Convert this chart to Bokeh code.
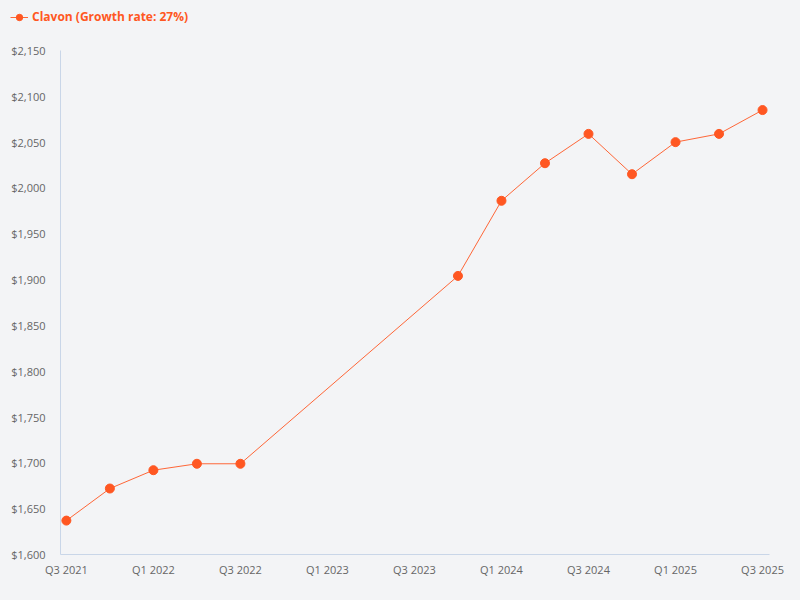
from bokeh.plotting import figure
from bokeh.layouts import column, row
from bokeh.models import FixedTicker, NumeralTickFormatter, Range1d, Legend, LegendItem
from bokeh.embed import file_html
from bokeh.resources import INLINE

series_name = "Clavon (Growth rate: 27%)"
quarters = ["Q3 2021", "Q4 2021", "Q1 2022", "Q2 2022", "Q3 2022",
            "Q4 2023", "Q1 2024", "Q2 2024", "Q3 2024", "Q4 2024",
            "Q1 2025", "Q2 2025", "Q3 2025"]
values = [1637, 1672, 1692, 1699, 1699,
          1904, 1986, 2027, 2059, 2015,
          2050, 2059, 2085]
tick_labels = ["Q3 2021", "Q1 2022", "Q3 2022", "Q1 2023", "Q3 2023",
               "Q1 2024", "Q3 2024", "Q1 2025", "Q3 2025"]
y_ticks = list(range(1600, 2151, 50))

BG = "#f3f4f6"
ORANGE = "#ff5722"
AXIS = "#c9d6e8"
LABEL = "#666666"
FONT = "Open Sans"
W = 784
LEG_H = 34


def qindex(label):
    q, y = label.split()
    return int(y) * 4 + int(q[1]) - 1


base = qindex(quarters[0])
xs = [qindex(q) - base for q in quarters]
tick_pos = [qindex(t) - base for t in tick_labels]

# ---- legend strip (series drawn out of view; only its legend shows) ----
lg = figure(width=W, height=LEG_H, output_backend="svg", toolbar_location=None,
            background_fill_color=BG, border_fill_color=BG,
            x_axis_type=None, y_axis_type=None,
            min_border_left=0, min_border_right=0, min_border_top=0, min_border_bottom=0,
            x_range=Range1d(0, 1), y_range=Range1d(0, 1))
lg.outline_line_color = None
lg.grid.visible = False
lg_line = lg.line(xs, values, line_color=ORANGE, line_width=1, line_alpha=0.9)
lg_pts = lg.scatter(xs, values, size=9, fill_color=ORANGE, line_color=ORANGE)
legend = Legend(items=[LegendItem(label=series_name, renderers=[lg_line, lg_pts])],
                location=(10, 9), orientation="horizontal",
                background_fill_alpha=0, border_line_color=None,
                label_text_color=ORANGE, label_text_font=FONT,
                label_text_font_style="bold", label_text_font_size="12px",
                glyph_width=18, glyph_height=16, label_height=16,
                label_standoff=4, padding=0, margin=0)
lg.add_layout(legend)

# ---- main chart ----
p = figure(width=W, height=584 - LEG_H, output_backend="svg", toolbar_location=None,
           background_fill_color=BG, border_fill_color=BG,
           min_border_left=60, min_border_right=15, min_border_top=16, min_border_bottom=30)
p.x_range = Range1d(-0.135, 16.16)
p.y_range = Range1d(1600, 2150)
p.outline_line_color = None
p.grid.visible = False

p.line(xs, values, line_color=ORANGE, line_width=1, line_alpha=0.9)
p.scatter(xs, values, size=9, fill_color=ORANGE, line_color=ORANGE)

p.xaxis.ticker = FixedTicker(ticks=tick_pos)
p.xaxis.major_label_overrides = {pos: lab for pos, lab in zip(tick_pos, tick_labels)}
p.yaxis.ticker = FixedTicker(ticks=y_ticks)
p.yaxis.formatter = NumeralTickFormatter(format="$0,0")
for ax in (p.xaxis[0], p.yaxis[0]):
    ax.axis_line_color = AXIS
    ax.axis_line_width = 1
    ax.major_tick_line_color = None
    ax.minor_tick_line_color = None
    ax.major_tick_out = 0
    ax.major_tick_in = 0
    ax.minor_tick_out = 0
    ax.minor_tick_in = 0
    ax.major_label_text_color = LABEL
    ax.major_label_text_font = FONT
    ax.major_label_text_font_size = "11px"
p.xaxis.major_label_standoff = 7
p.yaxis.major_label_standoff = 15

layout = column(row(lg, spacing=0), p, spacing=0)

html = file_html(layout, INLINE)
html = html.replace("<head>", "<head><style>body{background:%s;}</style>" % BG, 1)
open("out.html", "w").write(html)
